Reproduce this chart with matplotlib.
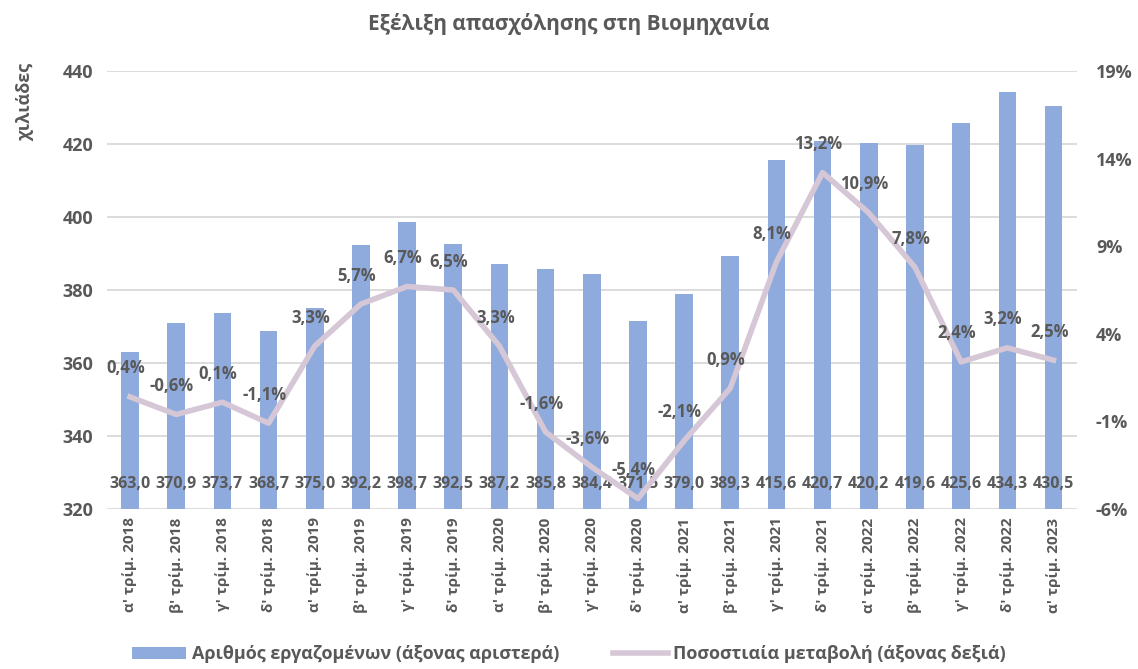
import matplotlib.pyplot as plt
import numpy as np

plt.rcParams['font.family'] = ['Open Sans', 'DejaVu Sans']

quarters = ["α' τρίμ. 2018", "β' τρίμ. 2018", "γ' τρίμ. 2018", "δ' τρίμ. 2018",
            "α' τρίμ. 2019", "β' τρίμ. 2019", "γ' τρίμ. 2019", "δ' τρίμ. 2019",
            "α' τρίμ. 2020", "β' τρίμ. 2020", "γ' τρίμ. 2020", "δ' τρίμ. 2020",
            "α' τρίμ. 2021", "β' τρίμ. 2021", "γ' τρίμ. 2021", "δ' τρίμ. 2021",
            "α' τρίμ. 2022", "β' τρίμ. 2022", "γ' τρίμ. 2022", "δ' τρίμ. 2022",
            "α' τρίμ. 2023"]
employed = [363.0, 370.9, 373.7, 368.7, 375.0, 392.2, 398.7, 392.5, 387.2, 385.8,
            384.4, 371.5, 379.0, 389.3, 415.6, 420.7, 420.2, 419.6, 425.6, 434.3, 430.5]
change = [0.4, -0.6, 0.1, -1.1, 3.3, 5.7, 6.7, 6.5, 3.3, -1.6,
          -3.6, -5.4, -2.1, 0.9, 8.1, 13.2, 10.9, 7.8, 2.4, 3.2, 2.5]

bar_color = '#8FAADC'
line_color = '#D5C7D6'
text_color = '#595959'

fig = plt.figure(figsize=(11.38, 6.69), dpi=100)
ax = fig.add_axes([0.094, 0.239, 0.852, 0.655])
x = np.arange(len(employed))

# bars - left axis
ax.bar(x, employed, width=0.38, color=bar_color, zorder=2,
       label='Αριθμός εργαζομένων (άξονας αριστερά)')
ax.set_ylim(320, 440)
ax.set_yticks(range(320, 441, 20))
ax.set_xlim(-0.5, len(employed) - 0.5)
ax.grid(axis='y', color='#D9D9D9', linewidth=1.3, zorder=0)
for s in ax.spines.values():
    s.set_visible(False)
ax.tick_params(length=0, labelsize=13, labelcolor=text_color, pad=10)
for t in ax.get_yticklabels():
    t.set_fontweight('bold')
ax.set_xticks(x)
ax.set_xticklabels(quarters, rotation=90, fontsize=11, fontweight='bold', color=text_color)
ax.tick_params(axis='x', pad=6)
ax.set_ylabel('χιλιάδες', fontsize=13, fontweight='bold', color=text_color)
ax.yaxis.set_label_coords(-0.075, 0.93)

for xi, v in zip(x, employed):
    ax.text(xi, 327, f'{v:.1f}'.replace('.', ','), ha='center', va='center',
            fontsize=11.5, fontweight='bold', color=text_color, zorder=5)

# line - right axis
ax2 = ax.twinx()
ax2.plot(x, change, color=line_color, linewidth=4, zorder=3,
         label='Ποσοστιαία μεταβολή (άξονας δεξιά)', solid_joinstyle='round')
ax2.set_ylim(-6, 19)
ax2.set_yticks(range(-6, 20, 5))
ax2.set_yticklabels([f'{v}%' for v in range(-6, 20, 5)])
for s in ax2.spines.values():
    s.set_visible(False)
ax2.tick_params(length=0, labelsize=13, labelcolor=text_color, pad=14)
for t in ax2.get_yticklabels():
    t.set_fontweight('bold')
for xi, v in zip(x, change):
    ax2.annotate(f'{v:.1f}%'.replace('.', ','), (xi, v), xytext=(-3, 14),
                 textcoords='offset points', ha='center', va='bottom',
                 fontsize=12, fontweight='bold', color=text_color, zorder=6)

fig.suptitle('Εξέλιξη απασχόλησης στη Βιομηχανία', y=0.98, fontsize=15,
             fontweight='bold', color=text_color)

h1, l1 = ax.get_legend_handles_labels()
h2, l2 = ax2.get_legend_handles_labels()
fig.legend(h1 + h2, l1 + l2, loc='lower center', bbox_to_anchor=(0.5, -0.016),
           ncol=2, frameon=False, labelcolor=text_color,
           handlelength=3.0, columnspacing=3, handletextpad=0.3,
           prop={'weight': 'bold', 'size': 13})

fig.savefig('out.png', dpi=100)
